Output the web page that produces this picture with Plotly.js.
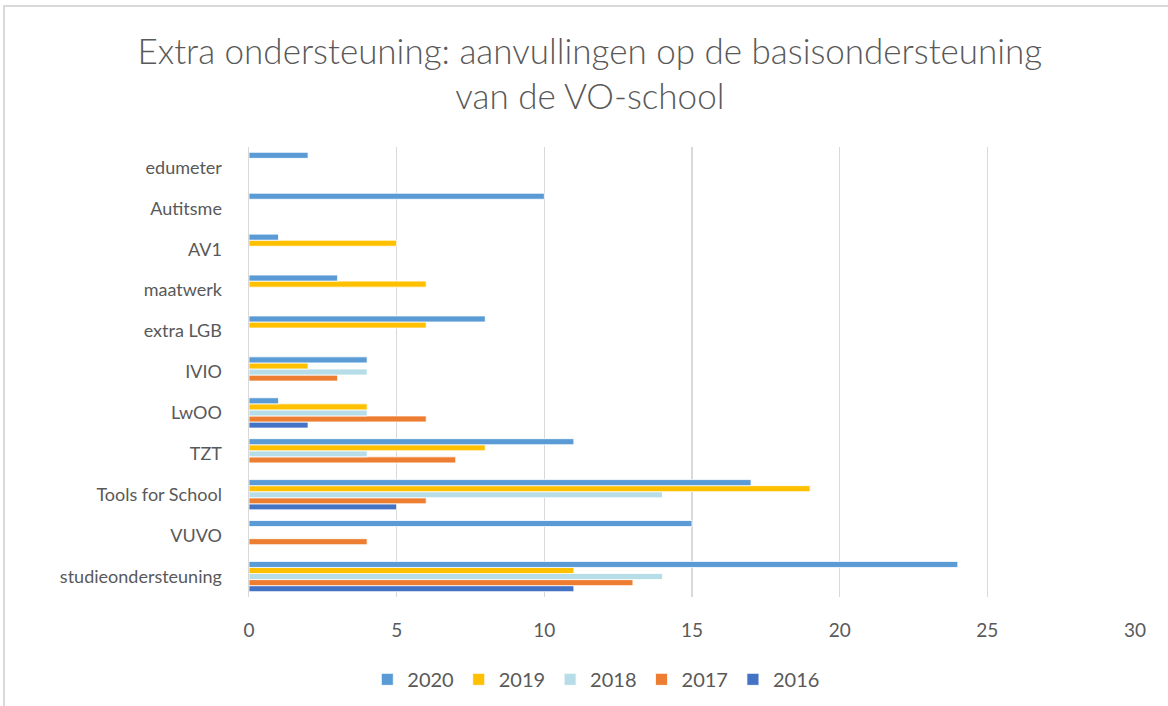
<!DOCTYPE html>
<html>
<head>
<meta charset="utf-8">
<script src="https://cdn.plot.ly/plotly-3.0.1.min.js"></script>
<style>
  html,body{margin:0;padding:0;background:#fff;overflow:hidden;}
  #chart{position:absolute;left:0;top:0;width:1168px;height:706px;}
  #frame{position:absolute;left:3px;top:5px;width:1200px;height:760px;border-left:2px solid #d9d9d9;border-top:2px solid #d9d9d9;pointer-events:none;}
</style>
</head>
<body>
<div id="chart"></div>
<div id="frame"></div>
<script>
// categories, bottom to top as Plotly draws them
const categories = ['studieondersteuning','VUVO','Tools for School','TZT','LwOO','IVIO','extra LGB','maatwerk','AV1','Autitsme','edumeter'];
const v2016 = [11, null, 5, null, 2, null, null, null, null, null, null];
const v2017 = [13, 4, 6, 7, 6, 3, null, null, null, null, null];
const v2018 = [14, null, 14, 4, 4, 4, null, null, null, null, null];
const v2019 = [11, null, 19, 8, 4, 2, 6, 6, 5, null, null];
const v2020 = [24, 15, 17, 11, 1, 4, 8, 3, 1, 10, 2];
const xTicks = [0, 5, 10, 15, 20, 25, 30];

(function(){
  const series = [
    {name:'2016', vals:v2016, color:'#4472c4'},
    {name:'2017', vals:v2017, color:'#ed7d31'},
    {name:'2018', vals:v2018, color:'#b7dee8'},
    {name:'2019', vals:v2019, color:'#ffc000'},
    {name:'2020', vals:v2020, color:'#5b9bd5'}
  ];
  const traces = series.map(s => ({
    type:'bar', orientation:'h', name:s.name,
    x:s.vals, y:categories,
    marker:{color:s.color, line:{color:'#ffffff', width:0.8}},
    hoverinfo:'x+name'
  }));
  const font = {family:'Lato, "Open Sans", sans-serif', color:'#595959'};
  const layout = {
    width:1168, height:706,
    paper_bgcolor:'#ffffff', plot_bgcolor:'#ffffff',
    margin:{l:249, r:33, t:147, b:109, autoexpand:false},
    barmode:'group', bargap:0.26, bargroupgap:0,
    font:font,
    title:{
      text:'Extra ondersteuning: aanvullingen op de basisondersteuning<br>van de VO-school',
      font:{family:font.family, size:35, color:'#595959', weight:300},
      x:0.505, xanchor:'center', y:0.91, yanchor:'top'
    },
    xaxis:{
      range:[0,30], tickvals:xTicks, showgrid:true, gridcolor:'#d9d9d9', gridwidth:1.5,
      zeroline:false, showline:false, ticks:'', tickfont:{size:19, color:'#595959'},
      ticklabelstandoff:20, fixedrange:true
    },
    yaxis:{
      type:'category', showgrid:false, zeroline:false, showline:true, linecolor:'#d9d9d9', linewidth:1.5,
      ticks:'', tickfont:{size:18, color:'#595959'}, ticklabelstandoff:22, fixedrange:true
    },
    legend:{
      orientation:'h', traceorder:'reversed', x:0.392, xanchor:'center', y:-0.183, yanchor:'middle',
      font:{size:20, color:'#595959'}, itemwidth:30
    },
    showlegend:true
  };
  Plotly.newPlot('chart', traces, layout, {displayModeBar:false, staticPlot:true});
})();
</script>
</body>
</html>
